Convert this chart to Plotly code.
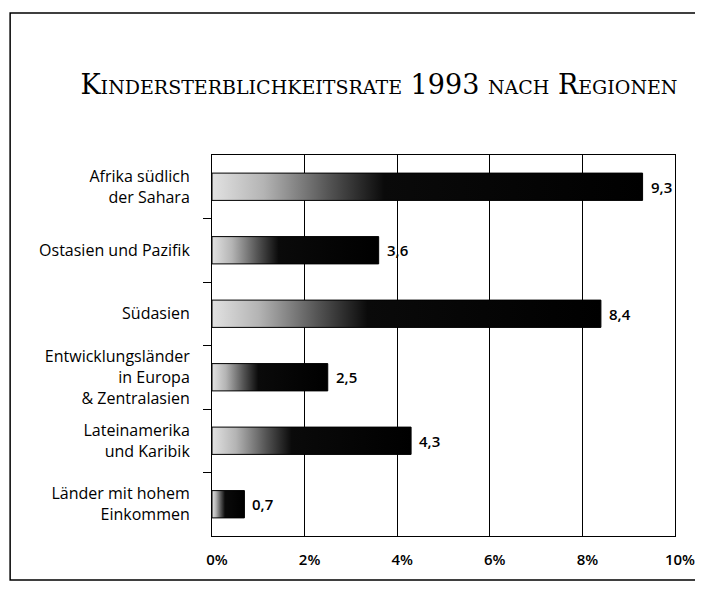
import plotly.graph_objects as go

# data (infant mortality rate 1993, percent)
regions = [
    "Afrika südlich<br>der Sahara",
    "Ostasien und Pazifik",
    "Südasien",
    "Entwicklungsländer<br>in Europa<br>& Zentralasien",
    "Lateinamerika<br>und Karibik",
    "Länder mit hohem<br>Einkommen",
]
rates = [9.3, 3.6, 8.4, 2.5, 4.3, 0.7]
x_ticks = [0, 2, 4, 6, 8, 10]

SANS = "'Open Sans', Lato, sans-serif"
SERIF = "'DejaVu Serif', 'Liberation Serif', serif"
HALF = 0.215  # half bar thickness in category units

grad = [[0, "#e2e2e2"], [0.12, "#b4b4b4"], [0.27, "#555555"], [0.4, "#0a0a0a"], [1, "#000000"]]

fig = go.Figure()

for i, v in enumerate(rates):
    fig.add_trace(go.Scatter(
        x=[0, v, v, 0, 0],
        y=[i - HALF, i - HALF, i + HALF, i + HALF, i - HALF],
        mode="lines",
        fill="toself",
        fillgradient=dict(type="horizontal", colorscale=grad),
        line=dict(color="black", width=1),
        hoverinfo="skip",
        showlegend=False,
    ))

# value labels with German decimal comma
for i, v in enumerate(rates):
    fig.add_annotation(
        x=v, y=i, xref="x", yref="y",
        text=f"{v:.1f}".replace(".", ","),
        showarrow=False, xanchor="left", yanchor="middle", xshift=6,
        font=dict(family=SANS, size=15, color="black", weight=600),
    )

# page body has an 8px margin, so keep the figure inside the window (no scrollbars)
fig.update_layout(
    width=687,
    height=573,
    margin=dict(l=204, r=20, t=147, b=45),
    paper_bgcolor="white",
    plot_bgcolor="white",
    title=dict(
        text="Kindersterblichkeitsrate 1993 nach Regionen",
        font=dict(family=SERIF, size=27, color="black", variant="small-caps"),
        x=0.54, xanchor="center",
        y=0.867, yanchor="middle", yref="container",
    ),
    xaxis=dict(
        range=[0, 10],
        tickvals=x_ticks,
        ticktext=[f"{t}%" for t in x_ticks],
        showgrid=True, gridcolor="black", gridwidth=1,
        showline=True, linecolor="black", linewidth=1, mirror=True,
        zeroline=False, ticks="", automargin=False,
        ticklabeloverflow="allow",
        ticklabelstandoff=10, ticklabelshift=5,
        tickfont=dict(family=SANS, size=15, color="black", weight=600),
    ),
    yaxis=dict(
        range=[len(regions) - 0.5, -0.5],
        tickvals=list(range(len(regions))),
        ticktext=regions,
        showgrid=False, zeroline=False, automargin=False,
        showline=True, linecolor="black", linewidth=1, mirror=True,
        ticks="", ticklabelstandoff=18,
        tickfont=dict(family=SANS, size=16, color="black"),
        minor=dict(
            tickvals=[i + 0.5 for i in range(len(regions) - 1)],
            ticks="outside", ticklen=8, tickcolor="black", tickwidth=1,
            showgrid=False,
        ),
    ),
    shapes=[dict(
        type="rect", xref="paper", yref="paper",
        x0=-0.436, x1=1.12, y0=-0.1155, y1=1.373,
        line=dict(color="black", width=1.5),
    )],
)

fig.write_html("out.html")
